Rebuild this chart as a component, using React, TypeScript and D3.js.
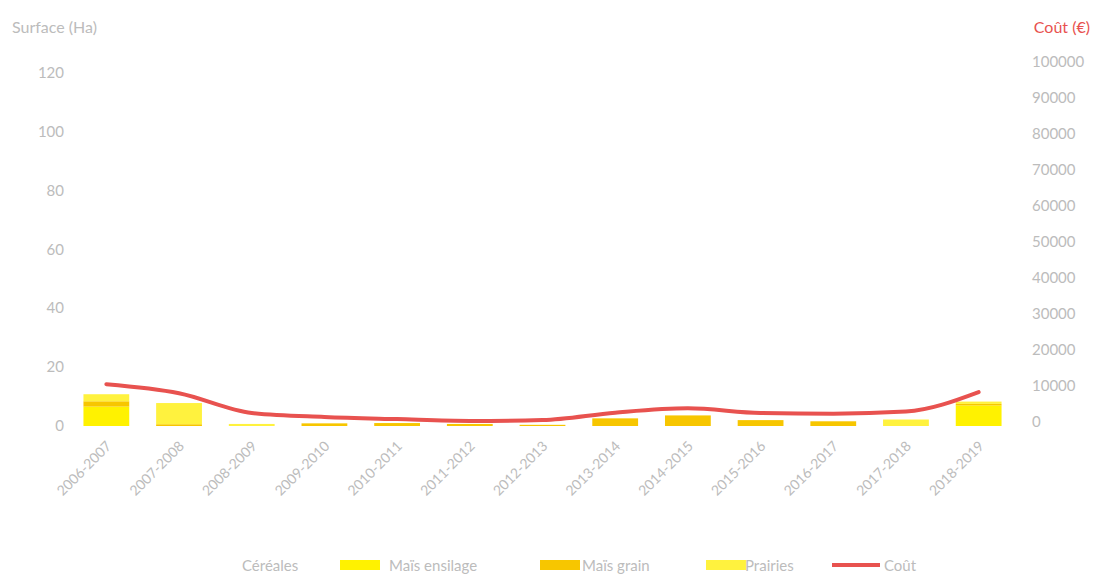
import React from "react";
import * as d3 from "d3";

const categories = [
  "2006-2007", "2007-2008", "2008-2009", "2009-2010", "2010-2011", "2011-2012",
  "2012-2013", "2013-2014", "2014-2015", "2015-2016", "2016-2017", "2017-2018", "2018-2019",
];
const cereales = [0, 0, 0, 0, 0, 0, 0, 0, 0, 0, 0, 0, 0];
const maisEnsilage = [6.6, 0, 0, 0, 0, 0, 0, 0, 0, 0, 0, 0, 7.0];
const maisGrain = [1.8, 0.6, 0, 0.9, 1.0, 0.7, 0.4, 2.6, 3.6, 2.0, 1.6, 0, 0.5];
const prairies = [2.4, 7.2, 0.7, 0, 0, 0, 0, 0, 0, 0, 0, 2.2, 0.8];
const cout = [10500, 8000, 2500, 1400, 800, 300, 550, 2600, 3800, 2500, 2300, 2900, 8300];

const leftTicks = [0, 20, 40, 60, 80, 100, 120];
const rightTicks = [0, 10000, 20000, 30000, 40000, 50000, 60000, 70000, 80000, 90000, 100000];

const seriesColors = ["#ffffff", "#fff200", "#f7c600", "#fff23e"];
const lineColor = "#e8524f";

export default function App() {
  const W = 1094, H = 578;
  const font = "Lato, 'Open Sans', sans-serif";
  const x = d3.scaleBand().domain(categories).range([70, 1015]).paddingInner(0.37).paddingOuter(0.185);
  const yL = d3.scaleLinear().domain([0, 120]).range([426, 73]);
  const yR = d3.scaleLinear().domain([0, 100000]).range([422, 62]);

  const rows = categories.map((c, i) => ({
    cat: c,
    s0: cereales[i], s1: maisEnsilage[i], s2: maisGrain[i], s3: prairies[i],
  }));
  const stack = d3.stack<any>().keys(["s0", "s1", "s2", "s3"]);
  const layers = stack(rows);

  const line = d3
    .line<number>()
    .x((_, i) => (x(categories[i]) as number) + x.bandwidth() / 2)
    .y((d) => yR(d))
    .curve(d3.curveMonotoneX);

  const grey = "#bcbcbc";

  const legendItems = [
    { label: "Céréales", color: seriesColors[0], sx: 218, tx: 242, type: "rect" },
    { label: "Maïs ensilage", color: seriesColors[1], sx: 340, tx: 389, type: "rect" },
    { label: "Maïs grain", color: seriesColors[2], sx: 540, tx: 582, type: "rect" },
    { label: "Prairies", color: seriesColors[3], sx: 706, tx: 745, type: "rect" },
    { label: "Coût", color: lineColor, sx: 832, tx: 884, type: "line" },
  ];

  return (
    <svg
      width={W}
      height={H}
      style={{ position: "absolute", left: 0, top: 0, background: "#fff", fontFamily: font }}
    >
      <text x={12} y={33} fontSize={16} fill={grey}>Surface (Ha)</text>
      <text x={1090} y={33} fontSize={16} fill={lineColor} textAnchor="end">Coût (€)</text>

      {leftTicks.map((t) => (
        <text key={t} x={64} y={yL(t) + 5} fontSize={15} fill={grey} textAnchor="end">{t}</text>
      ))}
      {rightTicks.map((t) => (
        <text key={t} x={1032} y={yR(t) + 5} fontSize={15} fill={grey}>{t}</text>
      ))}

      {layers.map((layer, li) => (
        <g key={li} fill={seriesColors[li]}>
          {layer.map((d, i) => {
            const h = yL(d[0]) - yL(d[1]);
            if (h <= 0) return null;
            return (
              <rect key={i} x={x(categories[i])} y={yL(d[1])} width={x.bandwidth()} height={h} />
            );
          })}
        </g>
      ))}

      <path d={line(cout) || ""} fill="none" stroke={lineColor} strokeWidth={4} strokeLinecap="round" />

      {categories.map((c) => {
        const cx = (x(c) as number) + x.bandwidth() / 2;
        return (
          <text
            key={c}
            transform={`translate(${cx + 6},${447}) rotate(-45)`}
            fontSize={14}
            fill={grey}
            textAnchor="end"
          >
            {c}
          </text>
        );
      })}

      {legendItems.map((it) => (
        <g key={it.label}>
          {it.type === "rect" ? (
            <rect x={it.sx} y={560} width={40} height={10} fill={it.color} />
          ) : (
            <line x1={it.sx} x2={it.sx + 48} y1={565} y2={565} stroke={it.color} strokeWidth={4} />
          )}
          <text x={it.tx} y={571} fontSize={15} fill={grey}>{it.label}</text>
        </g>
      ))}
    </svg>
  );
}
